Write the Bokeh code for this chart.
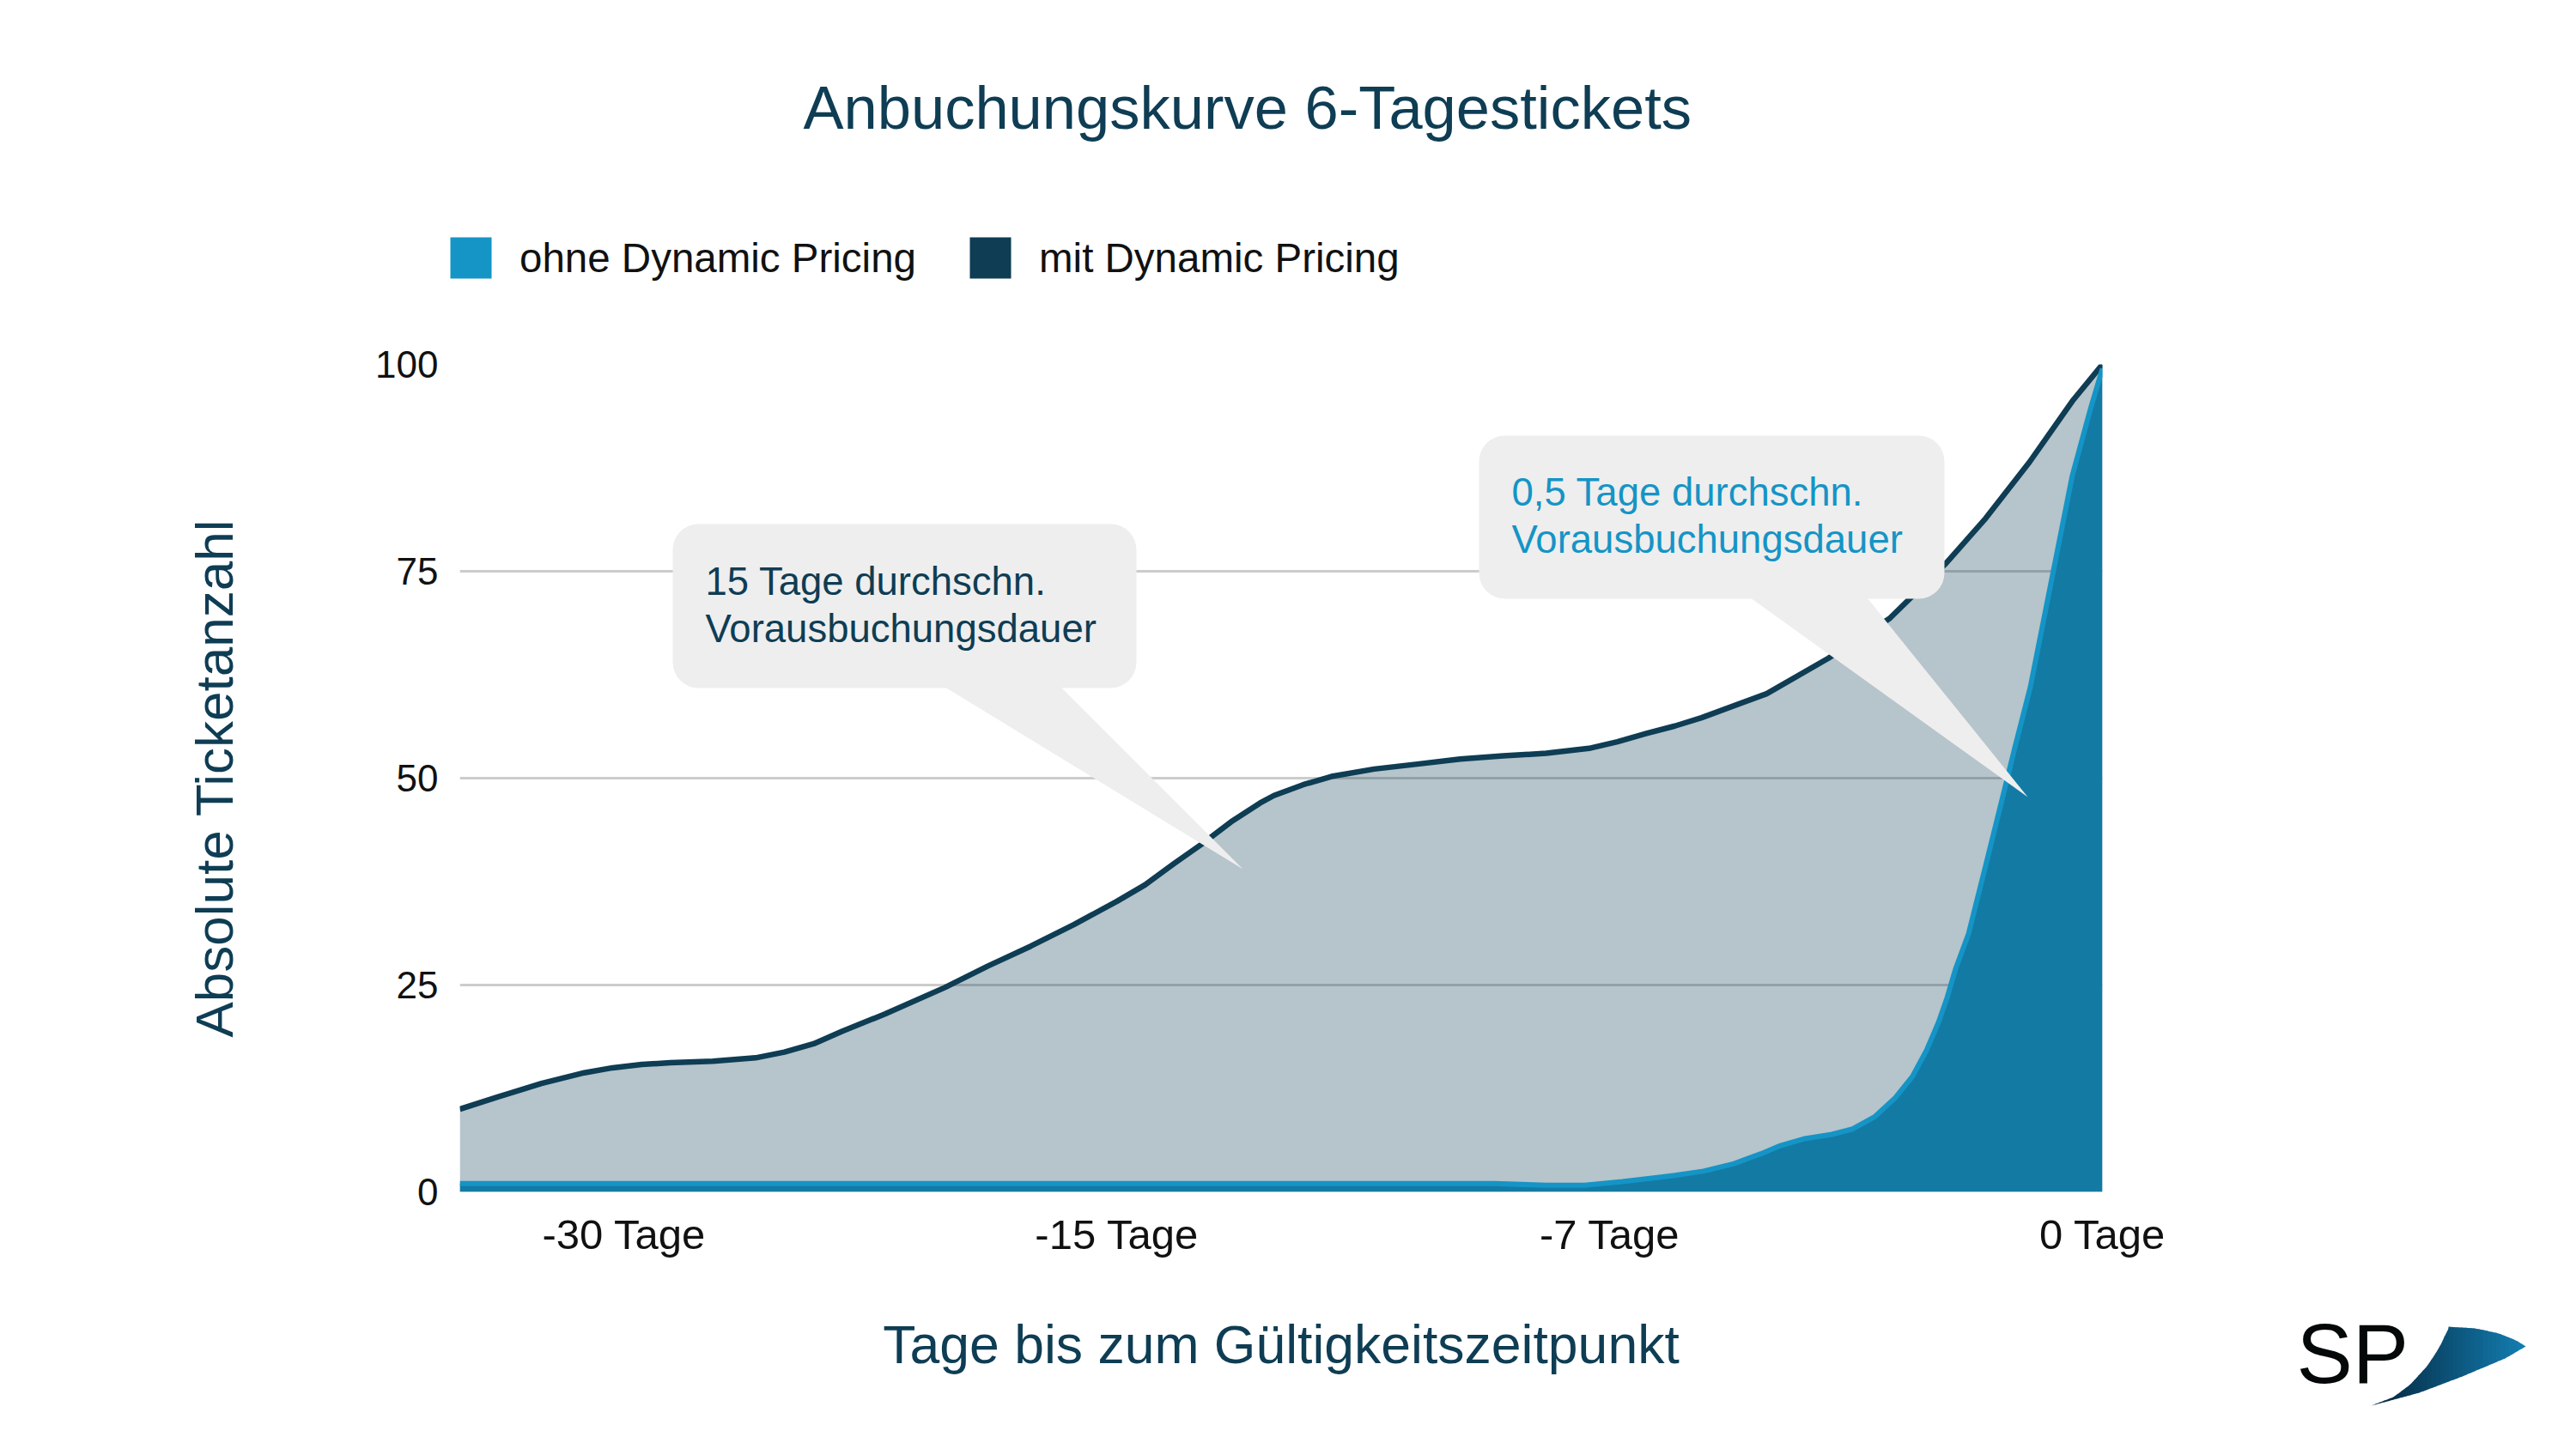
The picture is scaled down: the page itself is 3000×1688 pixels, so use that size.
import numpy as np
from bokeh.embed import file_html
from bokeh.layouts import column
from bokeh.models import (BoxAnnotation, ColumnDataSource, FixedTicker, Label, Legend, LegendItem,
                          PolyAnnotation, Range1d)
from bokeh.plotting import figure
from bokeh.resources import INLINE

# ---- values ----
chart_title = "Anbuchungskurve 6-Tagestickets"
x_title = "Tage bis zum Gültigkeitszeitpunkt"
y_title = "Absolute Ticketanzahl"
series_names = ["ohne Dynamic Pricing", "mit Dynamic Pricing"]
x_ticks = [1, 4, 7, 10]
x_tick_labels = ["-30 Tage", "-15 Tage", "-7 Tage", "0 Tage"]
y_ticks = [0, 25, 50, 75, 100]

mit_x = [0.00, 0.235, 0.497, 0.758, 0.93, 1.108, 1.28, 1.54, 1.80, 1.976, 2.154, 2.326, 2.588,
         2.953, 3.215, 3.476, 3.738, 3.999, 4.171, 4.349, 4.522, 4.694, 4.872, 4.956, 5.133,
         5.306, 5.567, 5.829, 6.09, 6.351, 6.613, 6.874, 7.047, 7.224, 7.397, 7.559, 7.956,
         8.332, 8.704, 9.049, 9.289, 9.556, 9.822, 10.0]
mit_y = [10.0, 11.5, 13.1, 14.4, 15.0, 15.4, 15.6, 15.8, 16.2, 16.9, 17.9, 19.4, 21.5,
         24.7, 27.3, 29.7, 32.3, 35.1, 37.1, 39.7, 42.1, 44.7, 47.0, 47.9, 49.2,
         50.2, 51.1, 51.7, 52.3, 52.7, 53.0, 53.6, 54.4, 55.4, 56.3, 57.3, 60.2,
         64.5, 69.3, 76.0, 81.4, 88.2, 95.7, 100.0]

ohne_x = [0.0, 1.0, 2.0, 3.0, 4.0, 5.0, 6.0, 6.3, 6.613, 6.848, 7.078, 7.313, 7.397, 7.57, 7.747,
          7.92, 8.04, 8.18, 8.353, 8.479, 8.615, 8.74, 8.845, 8.929, 9.002, 9.055, 9.107, 9.185,
          9.29, 9.415, 9.467, 9.561, 9.817, 9.927, 10.0]
ohne_y = [1.0, 1.0, 1.0, 1.0, 1.0, 1.0, 1.0, 1.0, 0.8, 0.8, 1.24, 1.8, 2.0, 2.5, 3.35,
          4.6, 5.6, 6.4, 6.95, 7.6, 9.1, 11.4, 14.0, 17.1, 20.5, 23.5, 27.0, 31.2,
          39.5, 49.5, 53.7, 61.0, 86.6, 94.6, 99.5]

callout_1 = ["15 Tage durchschn.", "Vorausbuchungsdauer"]
callout_2 = ["0,5 Tage durchschn.", "Vorausbuchungsdauer"]
logo_text = "SP"

# ---- styling ----
DARK = "#0E3D54"
LIGHT = "#1594C6"
FILL_LOW = "#137AA4"
BUBBLE = "#EEEEEE"
FONT = "Liberation Sans"

W, H = 2990, 1680
FL, FR, FT, FB = 535, 2448, 424, 1388   # plot area, picture pixels


def X(px):
    return (px - FL) / (FR - FL) * 10


def Y(py):
    return (FB - py) / (FB - FT) * 100


# Page layer behind the chart, in picture pixels: title, legend and logo lie outside the plot frame.
page = figure(width=W, height=H, output_backend="svg", toolbar_location=None,
              x_range=Range1d(0, W), y_range=Range1d(H, 0), min_border=0,
              x_axis_location=None, y_axis_location=None, frame_align=False,
              background_fill_color="white", border_fill_color="white")
page.outline_line_color = None
page.grid.visible = False

page.add_layout(Label(x=935, y=125, text=chart_title, text_font=FONT, text_font_size="70.5px",
                      text_color=DARK, text_align="left", text_baseline="alphabetic"))

r1 = page.quad(left=[np.nan], right=[np.nan], top=[np.nan], bottom=[np.nan], fill_color=LIGHT, line_color=None)
r2 = page.quad(left=[np.nan], right=[np.nan], top=[np.nan], bottom=[np.nan], fill_color=DARK, line_color=None)
page.add_layout(Legend(items=[LegendItem(label=series_names[0], renderers=[r1]),
                              LegendItem(label=series_names[1], renderers=[r2])],
                       orientation="horizontal", location=(518, H - 330),
                       glyph_width=60, glyph_height=60, label_standoff=27, spacing=56,
                       padding=0, margin=0, border_line_color=None, background_fill_alpha=0,
                       label_text_font=FONT, label_text_font_size="47.5px", label_text_color="#111111",
                       label_height=60))

page.add_layout(Label(x=2674, y=1576, text=logo_text, text_font=FONT, text_font_size="98px",
                      text_color="#050808", text_align="left", text_baseline="alphabetic"))
inner = ((2761, 2787, 2807, 2827, 2840, 2848, 2849), (1637, 1627, 1612, 1590, 1570, 1553, 1545))
upper = ((2849, 2883, 2910, 2930, 2941), (1545, 1547, 1553, 1561, 1568))
lower = ((2761, 2817, 2867, 2917, 2941), (1637, 1622, 1603, 1582, 1568))
grad0, grad1 = np.array((5, 38, 62)), np.array((20, 128, 180))
edges = np.linspace(2761, 2941, 37)
blade_xs, blade_ys, blade_cols = [], [], []
for a, b in zip(edges[:-1], edges[1:]):
    xs = np.array([a, min(b + 1, 2941)])
    top = np.where(xs < 2849, np.interp(xs, inner[0], inner[1]), np.interp(xs, upper[0], upper[1]))
    bot = np.interp(xs, lower[0], lower[1])
    t = (a - 2761) / 180
    blade_xs.append([xs[0], xs[1], xs[1], xs[0]])
    blade_ys.append([top[0], top[1], bot[1], bot[0]])
    blade_cols.append("#%02x%02x%02x" % tuple(int(v) for v in grad0 + (grad1 - grad0) * t))
page.patches(xs=blade_xs, ys=blade_ys, fill_color=blade_cols, line_color=None)

# Chart layer on top, with a transparent background.
p = figure(width=W, height=H, output_backend="svg", toolbar_location=None,
           x_range=Range1d(0, 10), y_range=Range1d(0, 100), frame_align=False,
           min_border_left=FL, min_border_right=W - FR,
           min_border_top=FT, min_border_bottom=H - FB,
           background_fill_alpha=0, border_fill_alpha=0, margin=(-H, 0, 0, 0))
p.outline_line_color = None

p.xgrid.visible = False
p.ygrid.ticker = FixedTicker(ticks=y_ticks)
p.ygrid.grid_line_color = "#CCCCCC"
p.ygrid.grid_line_width = 3

p.xaxis.ticker = FixedTicker(ticks=x_ticks)
p.xaxis.major_label_overrides = dict(zip(x_ticks, x_tick_labels))
p.yaxis.ticker = FixedTicker(ticks=y_ticks)
for ax, label, standoff, lab_standoff, tick_size, title_size in (
        (p.xaxis[0], x_title, 63, 22, "49px", "62.5px"),
        (p.yaxis[0], y_title, 150, 25, "44px", "62px")):
    ax.axis_line_color = None
    ax.major_tick_line_color = None
    ax.minor_tick_line_color = None
    ax.major_tick_in = 0
    ax.major_tick_out = 0
    ax.major_label_text_font = FONT
    ax.major_label_text_font_size = tick_size
    ax.major_label_text_color = "#111111"
    ax.major_label_standoff = lab_standoff
    ax.axis_label = label
    ax.axis_label_text_font = FONT
    ax.axis_label_text_font_style = "normal"
    ax.axis_label_text_font_size = title_size
    ax.axis_label_text_color = DARK
    ax.axis_label_standoff = standoff

mit = ColumnDataSource(dict(x=mit_x, y=mit_y, base=[0] * len(mit_x)))
ohne = ColumnDataSource(dict(x=ohne_x, y=ohne_y, base=[0] * len(ohne_x)))

p.varea(x="x", y1="base", y2="y", source=mit, fill_color=DARK, fill_alpha=0.3)
p.line(x="x", y="y", source=mit, line_color=DARK, line_width=6.5, line_join="round")
p.varea(x="x", y1="base", y2="y", source=ohne, fill_color=FILL_LOW)
p.line(x="x", y="y", source=ohne, line_color=LIGHT, line_width=6, line_join="round")


def callout(left, right, top, bottom, tail, lines, colour, tx, baselines):
    p.add_layout(PolyAnnotation(xs=[X(v[0]) for v in tail], ys=[Y(v[1]) for v in tail],
                                fill_color=BUBBLE, fill_alpha=1, line_color=None))
    p.add_layout(BoxAnnotation(left=X(left), right=X(right), top=Y(top), bottom=Y(bottom),
                               fill_color=BUBBLE, fill_alpha=1, line_color=None, border_radius=30))
    for text, base in zip(lines, baselines):
        p.add_layout(Label(x=X(tx), y=Y(base), text=text, text_font=FONT, text_font_size="45.5px",
                           text_color=colour, text_align="left", text_baseline="alphabetic"))


callout(783, 1323, 610, 801, [(1100, 800), (1235, 800), (1447, 1012)], callout_1, DARK, 821, (677, 732))
callout(1722, 2264, 507, 697, [(2038, 696), (2174, 696), (2361, 928)], callout_2, LIGHT, 1760, (573, 628))

open("out.html", "w").write(file_html(column(page, p), INLINE))
